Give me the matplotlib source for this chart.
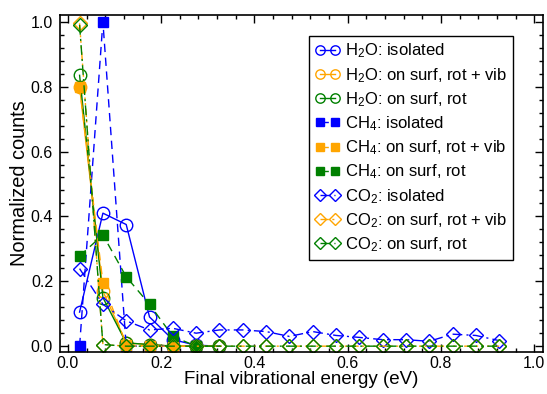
import matplotlib
matplotlib.use("Agg")
import matplotlib.pyplot as plt
from matplotlib.ticker import MultipleLocator, FormatStrFormatter

plt.rcParams["font.family"] = ["Liberation Sans", "DejaVu Sans"]
plt.rcParams["mathtext.fontset"] = "custom"
plt.rcParams["mathtext.rm"] = "Liberation Sans"
plt.rcParams["mathtext.default"] = "regular"

BLUE = "#0000ff"
ORANGE = "#ffa500"
GREEN = "#008000"

# energy bin centres (eV)
x_h2o = [0.025, 0.075, 0.125, 0.175, 0.225, 0.275, 0.325]
x_ch4 = [0.025, 0.075, 0.125, 0.175, 0.225, 0.275]
x_co2 = [0.025, 0.075, 0.125, 0.175, 0.225, 0.275, 0.325, 0.375, 0.425, 0.475,
         0.525, 0.575, 0.625, 0.675, 0.725, 0.775, 0.825, 0.875, 0.925]

h2o_isolated = [0.105, 0.41, 0.375, 0.09, 0.02, 0.003, 0.0]
h2o_rot_vib = [0.80, 0.17, 0.01, 0.005, 0.0, 0.0, 0.0]
h2o_rot = [0.835, 0.15, 0.01, 0.005, 0.0, 0.0, 0.0]

ch4_isolated = [0.0, 1.0, 0.0, 0.0, 0.0, 0.0]
ch4_rot_vib = [0.80, 0.195, 0.005, 0.0, 0.0, 0.0]
ch4_rot = [0.278, 0.343, 0.214, 0.129, 0.03, 0.0]

co2_isolated = [0.239, 0.129, 0.078, 0.05, 0.055, 0.04, 0.05, 0.05, 0.045, 0.03,
                0.045, 0.033, 0.027, 0.02, 0.02, 0.015, 0.037, 0.033, 0.017]
co2_rot_vib = [0.995, 0.005, 0.0, 0.0, 0.0, 0.0, 0.0, 0.0, 0.0, 0.0,
               0.0, 0.0, 0.0, 0.0, 0.0, 0.0, 0.0, 0.0, 0.0]
co2_rot = [0.99, 0.005, 0.0, 0.0, 0.0, 0.0, 0.0, 0.0, 0.0, 0.0,
           0.0, 0.0, 0.0, 0.0, 0.0, 0.0, 0.0, 0.0, 0.0]

fig = plt.figure(figsize=(5.47, 3.94), dpi=100)
ax = fig.add_axes([0.1097, 0.1066, 0.883, 0.8554])

lw = 1.0
dashed = (0, (6, 4))
dash_dot = (0, (7, 3, 1.5, 3))
dash_3dot = (0, (6, 2.5, 1.5, 2.5, 1.5, 2.5, 1.5, 2.5))

# H2O: open circles, solid
for y, c, lab in [(h2o_isolated, BLUE, "H$_2$O: isolated"),
                  (h2o_rot_vib, ORANGE, "H$_2$O: on surf, rot + vib"),
                  (h2o_rot, GREEN, "H$_2$O: on surf, rot")]:
    ax.plot(x_h2o, y, color=c, lw=lw, ls="-", marker="o", ms=9,
            mfc="none", mec=c, mew=1.0, label=lab)

# CH4: filled squares, dashed
for y, c, lab in [(ch4_isolated, BLUE, "CH$_4$: isolated"),
                  (ch4_rot_vib, ORANGE, "CH$_4$: on surf, rot + vib"),
                  (ch4_rot, GREEN, "CH$_4$: on surf, rot")]:
    ax.plot(x_ch4, y, color=c, lw=lw, ls=dashed, marker="s", ms=7,
            mfc=c, mec=c, label=lab)

# CO2: open diamonds, dash-dot styles
for y, c, ls, lab in [(co2_isolated, BLUE, dash_dot, "CO$_2$: isolated"),
                      (co2_rot_vib, ORANGE, dash_3dot, "CO$_2$: on surf, rot + vib"),
                      (co2_rot, GREEN, dash_dot, "CO$_2$: on surf, rot")]:
    ax.plot(x_co2, y, color=c, lw=lw, ls=ls, marker="D", ms=7.5,
            mfc="none", mec=c, mew=1.0, label=lab)

ax.set_xlim(-0.017, 1.019)
ax.set_ylim(-0.018, 1.021)
ax.xaxis.set_major_locator(MultipleLocator(0.2))
ax.xaxis.set_minor_locator(MultipleLocator(0.04))
ax.yaxis.set_major_locator(MultipleLocator(0.2))
ax.yaxis.set_minor_locator(MultipleLocator(0.04))
ax.xaxis.set_major_formatter(FormatStrFormatter("%.1f"))
ax.yaxis.set_major_formatter(FormatStrFormatter("%.1f"))
ax.tick_params(which="both", direction="in", top=True, right=True, width=1.0)
ax.tick_params(which="major", length=5.5, labelsize=11.5, pad=5)
ax.tick_params(axis="x", which="major", pad=3)
ax.tick_params(which="minor", length=3)
for s in ax.spines.values():
    s.set_linewidth(1.2)

ax.set_xlabel("Final vibrational energy (eV)", fontsize=13.5, labelpad=0)
ax.set_ylabel("Normalized counts", fontsize=14.4, labelpad=1)

leg = ax.legend(loc="upper right", bbox_to_anchor=(0.938, 0.938),
                borderaxespad=0, fontsize=12, numpoints=2, handlelength=1.5,
                handletextpad=0.3, labelspacing=0.33, borderpad=0.35,
                fancybox=False, framealpha=1, edgecolor="black")
leg.get_frame().set_linewidth(1.0)
for h in leg.legend_handles:
    h.set_markersize(h.get_markersize() * 0.75)

fig.savefig("out.png", dpi=100)
